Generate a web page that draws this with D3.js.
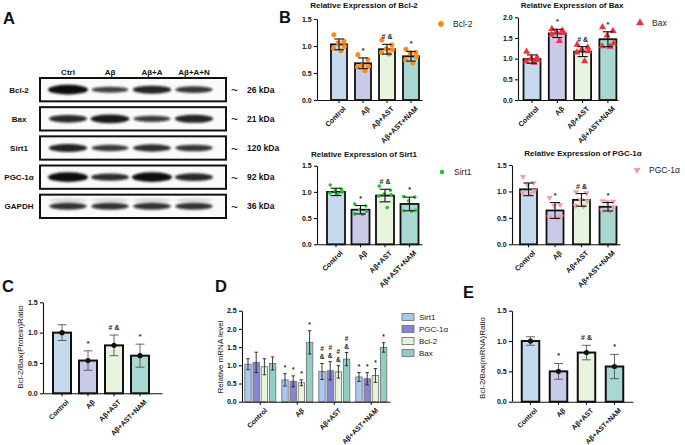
<!DOCTYPE html>
<html><head><meta charset="utf-8">
<script src="https://cdn.jsdelivr.net/npm/d3@7"></script>
<style>body{margin:0;background:#fff} svg{display:block;font-family:"Liberation Sans",Arial,sans-serif}</style>
</head><body><svg id="c" width="685" height="445"></svg>
<script>
// ---------- data ----------
const groups = ["Control", "Aβ", "Aβ+AST", "Aβ+AST+NAM"];
const blotLanes = ["Ctrl", "Aβ", "Aβ+A", "Aβ+A+N"];
const blotProteins = ["Bcl-2", "Bax", "Sirt1", "PGC-1α", "GAPDH"];
const blotKDa = ["26 kDa", "21 kDa", "120 kDa", "92 kDa", "36 kDa"];
const blotIntensity = [
  [1.0, 0.45, 0.75, 0.55],
  [0.7, 0.85, 0.5, 0.75],
  [0.75, 0.5, 0.65, 0.55],
  [1.0, 0.65, 1.0, 0.7],
  [0.6, 0.6, 0.6, 0.6]
];

const bcl2Mean = [1.03, 0.68, 0.94, 0.81];
const bcl2Sd = [0.10, 0.10, 0.09, 0.09];
const bcl2Points = [[1.21, 1.09, 1.06, 0.99, 0.96, 0.91], [0.84, 0.75, 0.64, 0.62, 0.61, 0.54], [1.11, 1.02, 0.95, 0.93, 0.88, 0.85], [0.94, 0.88, 0.87, 0.80, 0.74, 0.68]];
const bcl2Marks = ["", "*", "# &", "*"];

const baxMean = [0.99, 1.61, 1.17, 1.47];
const baxSd = [0.10, 0.10, 0.12, 0.18];
const baxPoints = [[1.17, 1.03, 1.00, 0.97, 0.93, 0.90], [1.72, 1.68, 1.65, 1.62, 1.58, 1.43], [1.34, 1.27, 1.22, 1.18, 1.15, 0.94], [1.76, 1.67, 1.56, 1.37, 1.30, 1.29]];
const baxMarks = ["", "*", "# &", "*"];

const sirt1Mean = [1.00, 0.66, 0.93, 0.77];
const sirt1Sd = [0.07, 0.08, 0.12, 0.13];
const sirt1Points = [[1.13, 1.05, 1.02, 1.00, 0.98, 0.97], [0.77, 0.73, 0.66, 0.63, 0.58, 0.57], [1.11, 1.03, 0.96, 0.95, 0.92, 0.70], [0.91, 0.90, 0.83, 0.65, 0.64, 0.63]];
const sirt1Marks = ["", "*", "# &", "*"];

const pgcMean = [1.04, 0.64, 0.84, 0.71];
const pgcSd = [0.12, 0.15, 0.12, 0.08];
const pgcPoints = [[1.28, 1.16, 1.12, 1.01, 0.97, 0.96], [0.88, 0.75, 0.73, 0.52, 0.51, 0.50], [0.99, 0.97, 0.84, 0.82, 0.73, 0.72], [0.82, 0.81, 0.80, 0.70, 0.64, 0.62]];
const pgcMarks = ["", "*", "# &", "*"];

const protRatioMean = [1.00, 0.54, 0.79, 0.62];
const protRatioSd = [0.13, 0.16, 0.17, 0.19];
const protRatioMarks = ["", "*", "# &", "*"];

const mrnaGenes = ["Sirt1", "PGC-1α", "Bcl-2", "Bax"];
const mrnaMean = {
  "Sirt1": [1.03, 0.60, 0.83, 0.68],
  "PGC-1α": [1.08, 0.56, 0.85, 0.63],
  "Bcl-2": [0.96, 0.52, 0.82, 0.72],
  "Bax": [1.05, 1.63, 1.17, 1.49]
};
const mrnaSd = {
  "Sirt1": [0.15, 0.17, 0.22, 0.12],
  "PGC-1α": [0.28, 0.15, 0.25, 0.17],
  "Bcl-2": [0.22, 0.08, 0.17, 0.19],
  "Bax": [0.18, 0.32, 0.18, 0.13]
};
const mrnaMarks = {
  "Sirt1": ["", "*", "#\n&", "*"],
  "PGC-1α": ["", "*", "#\n&", "*"],
  "Bcl-2": ["", "*", "#\n&", "*"],
  "Bax": ["", "*", "#\n&", "*"]
};

const mrnaRatioMean = [1.00, 0.50, 0.81, 0.58];
const mrnaRatioSd = [0.07, 0.13, 0.12, 0.20];
const mrnaRatioMarks = ["", "*", "# &", "*"];

const ticks15 = [0, 0.5, 1.0, 1.5];
const ticks20 = [0, 0.5, 1.0, 1.5, 2.0];
const ticks25 = [0, 0.5, 1.0, 1.5, 2.0, 2.5];

// ---------- styles ----------
const groupColors = ["#c6daef", "#c9c9e8", "#e7f4de", "#a9d8d3"];
const geneColors = {"Sirt1": "#a9c9ee", "PGC-1α": "#8585d2", "Bcl-2": "#e6f4dc", "Bax": "#8fcdc5"};
const jitter = [-0.32, 0.3, -0.05, 0.34, -0.34, 0.12];

const svg = d3.select("#c");

function bandScale(domain, a, b, c0, s, bw) {
  const n = domain.length, R = b - a, pi = 1 - bw / s;
  const po = (R / s - n + pi) / 2;
  const align = (c0 - bw / 2 - a) / (R - s * (n - pi));
  return d3.scaleBand().domain(domain).range([a, b]).paddingInner(pi).paddingOuter(po).align(align);
}

function axes(g, x, y, tickVals, yb, labelSize) {
  const ya = g.append("g").attr("transform", `translate(${x.range()[0]},0)`)
    .call(d3.axisLeft(y).tickValues(tickVals).tickFormat(d3.format(".1f")).tickSize(3).tickSizeOuter(0));
  ya.selectAll("text").attr("font-size", 7).attr("font-weight", "bold").attr("fill", "#111").attr("dx", "0.1em");
  ya.selectAll("line,path").attr("stroke", "#111").attr("stroke-width", 1.1);
  const xa = g.append("g").attr("transform", `translate(0,${yb})`)
    .call(d3.axisBottom(x).tickSize(3).tickSizeOuter(0));
  xa.selectAll("line,path").attr("stroke", "#111").attr("stroke-width", 1.1);
  xa.selectAll("text").attr("font-size", labelSize || 7.5).attr("font-weight", "bold").attr("fill", "#111")
    .attr("text-anchor", "end").attr("dy", 0).attr("dx", 0)
    .attr("transform", "translate(3,5) rotate(-45)");
}

function errBar(g, cx, yTop, yBot, cap, color, w) {
  g.append("line").attr("x1", cx).attr("x2", cx).attr("y1", yTop).attr("y2", yBot).attr("stroke", color).attr("stroke-width", w);
  g.append("line").attr("x1", cx - cap / 2).attr("x2", cx + cap / 2).attr("y1", yTop).attr("y2", yTop).attr("stroke", color).attr("stroke-width", w);
  g.append("line").attr("x1", cx - cap / 2).attr("x2", cx + cap / 2).attr("y1", yBot).attr("y2", yBot).attr("stroke", color).attr("stroke-width", w);
}

function marks(g, cx, yTop, txt, size) {
  const lines = txt.split("\n");
  lines.forEach((t, i) => {
    g.append("text").attr("x", cx).attr("y", yTop - 3 - (lines.length - 1 - i) * 8).attr("text-anchor", "middle")
      .attr("font-size", size || 7).attr("font-weight", "bold").attr("fill", "#222").text(t);
  });
}

// scatter bar chart (panel B)
function scatterChart(o) {
  const g = svg.append("g");
  const x = bandScale(groups, o.ax, o.ae, o.c0, o.step, o.bw);
  const y = d3.scaleLinear().domain([0, o.max]).range([o.yb, o.yt]);
  g.selectAll("rect.bar").data(groups).join("rect")
    .attr("x", d => x(d)).attr("y", (d, i) => y(o.mean[i]))
    .attr("width", x.bandwidth()).attr("height", (d, i) => y(0) - y(o.mean[i]))
    .attr("fill", (d, i) => groupColors[i]).attr("stroke", "#111").attr("stroke-width", 1.8);
  groups.forEach((gr, i) => {
    const cx = x(gr) + x.bandwidth() / 2;
    o.points[i].forEach((v, k) => {
      g.append("path").attr("d", d3.symbol().type(o.symbol).size(o.symSize)())
        .attr("transform", `translate(${cx + jitter[k] * x.bandwidth()},${y(v)})${o.flip ? " rotate(180)" : ""}`)
        .attr("fill", o.color);
    });
    errBar(g, cx, y(o.mean[i] + o.sd[i]), y(o.mean[i] - o.sd[i]), x.bandwidth() * 0.6, "#111", 1.1);
    if (o.marks[i]) marks(g, cx, y(o.mean[i] + o.sd[i]) - 2, o.marks[i]);
  });
  axes(g, x, y, o.ticks, o.yb, 7.2);
  g.append("text").attr("x", o.titleX).attr("y", o.titleY).attr("text-anchor", "middle")
    .attr("font-size", 8).attr("font-weight", "bold").attr("fill", "#111").text(o.title);
  g.append("path").attr("d", d3.symbol().type(o.symbol).size(o.symSize + 6)())
    .attr("transform", `translate(${o.legX},${o.legY})${o.flip ? " rotate(180)" : ""}`).attr("fill", o.color);
  g.append("text").attr("x", o.legX + 12).attr("y", o.legY + 3).attr("font-size", 8.5).attr("fill", "#222").text(o.legend);
}

// mean bar chart (panels C, E)
function meanChart(o) {
  const g = svg.append("g");
  const x = bandScale(groups, o.ax, o.ae, o.c0, o.step, o.bw);
  const y = d3.scaleLinear().domain([0, o.max]).range([o.yb, o.yt]);
  g.selectAll("rect.bar").data(groups).join("rect")
    .attr("x", d => x(d)).attr("y", (d, i) => y(o.mean[i]))
    .attr("width", x.bandwidth()).attr("height", (d, i) => y(0) - y(o.mean[i]))
    .attr("fill", (d, i) => groupColors[i]).attr("stroke", "#111").attr("stroke-width", 2);
  groups.forEach((gr, i) => {
    const cx = x(gr) + x.bandwidth() / 2;
    errBar(g, cx, y(o.mean[i] + o.sd[i]), y(o.mean[i] - o.sd[i]), 9, "#555", 0.9);
    g.append("circle").attr("cx", cx).attr("cy", y(o.mean[i])).attr("r", 2.6).attr("fill", "#111");
    if (o.marks[i]) marks(g, cx, y(o.mean[i] + o.sd[i]) - 2, o.marks[i]);
  });
  axes(g, x, y, o.ticks, o.yb, 7);
  g.append("text").attr("transform", `translate(${o.labX},${o.labY}) rotate(-90)`).attr("text-anchor", "middle")
    .attr("font-size", 8).attr("fill", "#111").text(o.label);
}

// ---------- panel labels ----------
[["A", 3, 24], ["B", 279, 23], ["C", 2, 292], ["D", 215, 292], ["E", 463, 298]].forEach(([t, x, y]) =>
  svg.append("text").attr("x", x).attr("y", y).attr("font-size", 16.5).attr("font-weight", "bold").attr("fill", "#111").text(t));

// ---------- panel A : western blot ----------
(function () {
  const g = svg.append("g");
  const defs = svg.append("defs");
  defs.append("filter").attr("id", "blur").attr("x", "-20%").attr("y", "-100%").attr("width", "140%").attr("height", "300%")
    .append("feGaussianBlur").attr("stdDeviation", "1.3 0.9");
  const lx = d3.scalePoint().domain(blotLanes).range([68, 194]);
  const ry = d3.scaleBand().domain(blotProteins).range([78, 218]).paddingInner(0.2);
  g.selectAll("text.lane").data(blotLanes).join("text").attr("x", d => lx(d)).attr("y", 75)
    .attr("text-anchor", "middle").attr("font-size", 8).attr("font-weight", "bold").attr("fill", "#111").text(d => d);
  blotProteins.forEach((p, r) => {
    const y0 = ry(p), h = ry.bandwidth(), cy = y0 + h / 2;
    g.append("rect").attr("x", 40).attr("y", y0).attr("width", 186).attr("height", h)
      .attr("fill", "#fafafa").attr("stroke", "#111").attr("stroke-width", 2);
    if (p === "GAPDH") {
      blotLanes.forEach(l => g.append("ellipse").attr("cx", lx(l)).attr("cy", cy - 6).attr("rx", 19).attr("ry", 2)
        .attr("fill", "#999").attr("opacity", 0.35).attr("filter", "url(#blur)"));
    }
    blotLanes.forEach((l, k) => {
      const v = blotIntensity[r][k];
      g.append("ellipse").attr("cx", lx(l)).attr("cy", cy).attr("rx", 17 + 3 * v).attr("ry", 1.6 + 3.2 * v)
        .attr("fill", "#111").attr("opacity", 0.6 + 0.4 * v).attr("filter", "url(#blur)");
    });
    g.append("text").attr("x", 19).attr("y", cy + 3).attr("text-anchor", "middle")
      .attr("font-size", 8).attr("font-weight", "bold").attr("fill", "#111").text(p);
    g.append("text").attr("x", 231).attr("y", cy + 4.5).attr("font-size", 12).attr("fill", "#111").text("~");
    g.append("text").attr("x", 247).attr("y", cy + 3).attr("font-size", 8.5).attr("font-weight", "bold").attr("fill", "#111").text(blotKDa[r]);
  });
})();

// ---------- panel B ----------
scatterChart({ax: 317, ae: 422, c0: 339, step: 24, bw: 16, yb: 100, yt: 19, max: 1.5, ticks: ticks15,
  mean: bcl2Mean, sd: bcl2Sd, points: bcl2Points, marks: bcl2Marks, symbol: d3.symbolCircle, symSize: 20, color: "#ff8a1e",
  title: "Relative Expression of Bcl-2", titleX: 364, titleY: 8, legX: 441, legY: 24, legend: "Bcl-2"});
scatterChart({ax: 518, ae: 618, c0: 532, step: 25.3, bw: 17, yb: 100, yt: 17.3, max: 2.0, ticks: ticks20,
  mean: baxMean, sd: baxSd, points: baxPoints, marks: baxMarks, symbol: d3.symbolTriangle, symSize: 22, color: "#ee3340",
  title: "Relative Expression of Bax", titleX: 572, titleY: 8, legX: 640, legY: 23, legend: "Bax"});
scatterChart({ax: 317, ae: 422, c0: 336, step: 24.5, bw: 18, yb: 244.3, yt: 165.7, max: 1.5, ticks: ticks15,
  mean: sirt1Mean, sd: sirt1Sd, points: sirt1Points, marks: sirt1Marks, symbol: d3.symbolCircle, symSize: 10, color: "#1ec81e",
  title: "Relative Expression of Sirt1", titleX: 364, titleY: 157, legX: 442, legY: 172, legend: "Sirt1"});
scatterChart({ax: 512, ae: 620, c0: 528.5, step: 26.5, bw: 17, yb: 244.3, yt: 165, max: 1.5, ticks: ticks15,
  mean: pgcMean, sd: pgcSd, points: pgcPoints, marks: pgcMarks, symbol: d3.symbolTriangle, symSize: 16, color: "#f0a0a8", flip: true,
  title: "Relative Expression of PGC-1α", titleX: 583, titleY: 156, legX: 637, legY: 170, legend: "PGC-1α"});

// ---------- panel C ----------
meanChart({ax: 43, ae: 162, c0: 62, step: 26, bw: 18, yb: 393.3, yt: 302.3, max: 1.5, ticks: ticks15,
  mean: protRatioMean, sd: protRatioSd, marks: protRatioMarks, label: "Bcl-2/Bax(Protein)Ratio", labX: 23, labY: 347});

// ---------- panel E ----------
meanChart({ax: 512, ae: 633, c0: 530.5, step: 28, bw: 17.5, yb: 401.7, yt: 310.7, max: 1.5, ticks: ticks15,
  mean: mrnaRatioMean, sd: mrnaRatioSd, marks: mrnaRatioMarks, label: "Bcl-2/Bax(mRNA)Ratio", labX: 485, labY: 358});

// ---------- panel D ----------
(function () {
  const g = svg.append("g");
  const x = bandScale(groups, 242, 390, 260.3, 37, 31);
  const xs = d3.scaleBand().domain(mrnaGenes).range([0, x.bandwidth()]).paddingInner(0.22);
  const y = d3.scaleLinear().domain([0, 2.5]).range([401.7, 310.7]);
  groups.forEach((gr, i) => {
    mrnaGenes.forEach(gene => {
      const bx = x(gr) + xs(gene), m = mrnaMean[gene][i], s = mrnaSd[gene][i];
      g.append("rect").attr("x", bx).attr("y", y(m)).attr("width", xs.bandwidth()).attr("height", y(0) - y(m))
        .attr("fill", geneColors[gene]).attr("stroke", "#777").attr("stroke-width", 0.9);
      const cx = bx + xs.bandwidth() / 2;
      errBar(g, cx, y(m + s), y(m - s), 3.5, "#222", 0.9);
      if (mrnaMarks[gene][i]) marks(g, cx, y(m + s) - 1, mrnaMarks[gene][i], 6.5);
    });
  });
  axes(g, x, y, ticks25, 401.7, 7);
  g.append("text").attr("transform", "translate(223,357) rotate(-90)").attr("text-anchor", "middle")
    .attr("font-size", 8).attr("fill", "#111").text("Relative mRNA level");
  const ly = d3.scalePoint().domain(mrnaGenes).range([317, 353]);
  mrnaGenes.forEach(gene => {
    g.append("rect").attr("x", 402).attr("y", ly(gene) - 3.5).attr("width", 12).attr("height", 7)
      .attr("fill", geneColors[gene]).attr("stroke", "#777").attr("stroke-width", 0.9);
    g.append("text").attr("x", 419).attr("y", ly(gene) + 3).attr("font-size", 8).attr("fill", "#222").text(gene);
  });
})();
</script></body></html>
